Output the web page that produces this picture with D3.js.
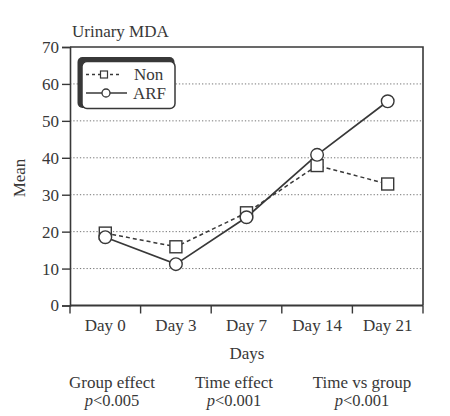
<!DOCTYPE html>
<html><head><meta charset="utf-8">
<script src="https://cdn.jsdelivr.net/npm/d3@7"></script>
<style>
html,body{margin:0;padding:0;background:#fff;}
svg{display:block;font-family:"Liberation Serif","Times New Roman",serif;}
</style></head>
<body>
<svg id="c" width="450" height="416"></svg>
<script>
const days = ["Day 0","Day 3","Day 7","Day 14","Day 21"];
const nonValues = [19.6, 15.9, 25.1, 37.9, 32.9];
const arfValues = [18.5, 11.2, 23.9, 40.8, 55.3];
const yTicks = [0,10,20,30,40,50,60,70];
const statLabels = ["Group effect", "Time effect", "Time vs group"];
const statP = ["<0.005", "<0.001", "<0.001"];

const ink = "#383838";
const svg = d3.select("#c");
const L = 70, R = 423, T = 47, B = 305.5;
const x = d3.scaleBand().domain(days).range([L, R]).padding(0);
const y = d3.scaleLinear().domain([0,70]).range([B, T]);
const cx = d => x(d) + x.bandwidth()/2;

// gridlines
svg.append("g").selectAll("line").data(yTicks.filter(v => v>0 && v<70)).join("line")
  .attr("x1", L).attr("x2", R).attr("y1", d=>y(d)).attr("y2", d=>y(d))
  .attr("stroke", "#777").attr("stroke-width", 1).attr("stroke-dasharray", "1.3,2");

// frame (top & right)
svg.append("path").attr("d", `M${L},${T}H${R}V${B}`).attr("fill","none")
  .attr("stroke", ink).attr("stroke-width", 1.6);

// y axis
const ya = svg.append("g").attr("transform", `translate(${L},0)`)
  .call(d3.axisLeft(y).tickValues(yTicks).tickSize(8).tickPadding(3).tickFormat(d3.format("d")));
ya.select(".domain").attr("stroke", ink).attr("stroke-width", 1.6);
ya.selectAll(".tick line").attr("stroke", ink).attr("stroke-width", 1.4);
ya.selectAll("text").attr("font-size", 17).attr("fill", ink).attr("font-family", "Liberation Serif");

// x axis labels
const xa = svg.append("g").attr("transform", `translate(0,${B})`)
  .call(d3.axisBottom(x).tickSize(0).tickPadding(13));
xa.select(".domain").remove();
xa.selectAll("text").attr("font-size", 17).attr("fill", ink).attr("font-family", "Liberation Serif");
// x axis line & boundary ticks
svg.append("line").attr("x1", L).attr("x2", R).attr("y1", B).attr("y2", B)
  .attr("stroke", ink).attr("stroke-width", 1.8);
const bounds = days.map(d => x(d)).concat([x.range()[1]]);
svg.append("g").selectAll("line").data(bounds).join("line")
  .attr("x1", d=>d).attr("x2", d=>d).attr("y1", B).attr("y2", B+8)
  .attr("stroke", ink).attr("stroke-width", 1.4);

// lines
const lineGen = d3.line().x((d,i)=>cx(days[i])).y(d=>y(d));
svg.append("path").datum(nonValues).attr("d", lineGen).attr("fill","none")
  .attr("stroke", ink).attr("stroke-width", 1.5).attr("stroke-dasharray", "4,3");
svg.append("path").datum(arfValues).attr("d", lineGen).attr("fill","none")
  .attr("stroke", ink).attr("stroke-width", 1.7);

// markers
const sq = 12;
svg.append("g").selectAll("rect").data(nonValues).join("rect")
  .attr("x", (d,i)=>cx(days[i]) - sq/2).attr("y", d=>y(d) - sq/2)
  .attr("width", sq).attr("height", sq)
  .attr("fill", "#fff").attr("stroke", ink).attr("stroke-width", 1.4);
svg.append("g").selectAll("circle").data(arfValues).join("circle")
  .attr("cx", (d,i)=>cx(days[i])).attr("cy", d=>y(d)).attr("r", 6.3)
  .attr("fill", "#fff").attr("stroke", ink).attr("stroke-width", 1.4);

// legend
const lg = svg.append("g");
lg.append("rect").attr("x", 77.5).attr("y", 57).attr("width", 97).attr("height", 51).attr("rx", 5)
  .attr("fill", ink);
lg.append("rect").attr("x", 82).attr("y", 61.5).attr("width", 93).attr("height", 47).attr("rx", 5)
  .attr("fill", "#fff").attr("stroke", ink).attr("stroke-width", 1.5);
lg.append("line").attr("x1", 86).attr("x2", 122).attr("y1", 74.5).attr("y2", 74.5)
  .attr("stroke", ink).attr("stroke-width", 1.4).attr("stroke-dasharray", "3,3");
lg.append("rect").attr("x", 100.5).attr("y", 71).attr("width", 7).attr("height", 7)
  .attr("fill", "#fff").attr("stroke", ink).attr("stroke-width", 1.2);
lg.append("line").attr("x1", 86).attr("x2", 127).attr("y1", 93).attr("y2", 93)
  .attr("stroke", ink).attr("stroke-width", 1.6);
lg.append("circle").attr("cx", 106).attr("cy", 93).attr("r", 4)
  .attr("fill", "#fff").attr("stroke", ink).attr("stroke-width", 1.3);
lg.append("text").attr("x", 134).attr("y", 80).attr("font-size", 17).attr("fill", ink).text("Non");
lg.append("text").attr("x", 133).attr("y", 99).attr("font-size", 17).attr("fill", ink).text("ARF");

// title, axis titles
svg.append("text").attr("x", 72).attr("y", 37).attr("font-size", 17).attr("fill", ink).text("Urinary MDA");
svg.append("text").attr("transform", "translate(25,178) rotate(-90)").attr("text-anchor", "middle")
  .attr("font-size", 17).attr("fill", ink).text("Mean");
svg.append("text").attr("x", 247).attr("y", 359).attr("text-anchor", "middle")
  .attr("font-size", 17).attr("fill", ink).text("Days");

// stats
const sx = [112, 234, 362];
const sg = svg.append("g").selectAll("g").data(statLabels).join("g")
  .attr("transform", (d,i)=>`translate(${sx[i]},0)`);
sg.append("text").attr("y", 388).attr("text-anchor", "middle").attr("font-size", 17).attr("fill", ink)
  .text(d=>d);
const pt = sg.append("text").attr("y", 406).attr("text-anchor", "middle").attr("font-size", 16.5).attr("fill", ink);
pt.append("tspan").attr("font-style", "italic").text("p");
pt.append("tspan").text((d,i)=>statP[i]);
</script>
</body></html>
